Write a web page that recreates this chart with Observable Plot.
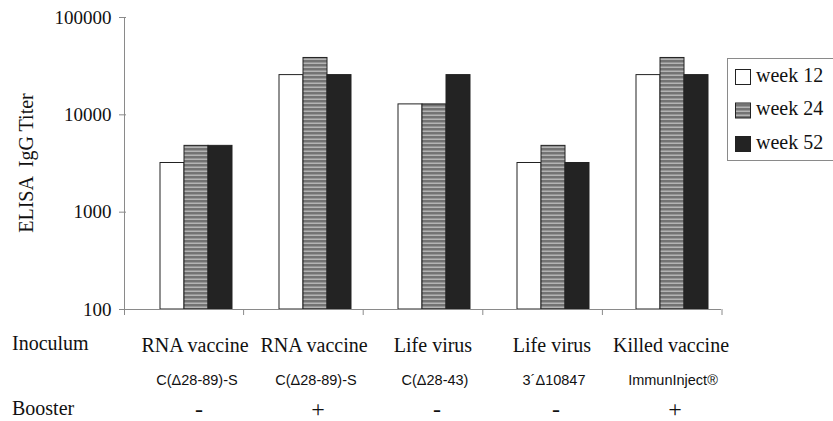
<!DOCTYPE html>
<html>
<head>
<meta charset="utf-8">
<script src="https://cdn.jsdelivr.net/npm/d3@7"></script>
<script src="https://cdn.jsdelivr.net/npm/@observablehq/plot@0.6"></script>
<style>
  body { margin: 0; background: #fff; }
  #chart svg { display: block; }
</style>
</head>
<body>
<div id="chart"></div>
<script>
// ---- data ----
const inoculum = ["RNA vaccine", "RNA vaccine", "Life virus", "Life virus", "Killed vaccine"];
const construct = ["C(\u039428-89)-S", "C(\u039428-89)-S", "C(\u039428-43)", "3\u00b4\u039410847", "ImmunInject\u00ae"];
const booster = ["-", "+", "-", "-", "+"];
const weeks = ["week 12", "week 24", "week 52"];
const week12 = [3200, 25600, 12800, 3200, 25600];
const week24 = [4800, 38400, 12800, 4800, 38400];
const week52 = [4800, 25600, 25600, 3200, 25600];
const yTicks = [100, 1000, 10000, 100000];
const rowLabels = ["Inoculum", "Booster"];

const seriesValues = [week12, week24, week52];
const groups = d3.range(inoculum.length);
const rows = [];
groups.forEach(g => weeks.forEach((w, k) => rows.push({g, week: w, value: seriesValues[k][g]})));
const labels = groups.map(g => ({g, inoculum: inoculum[g], construct: construct[g], booster: booster[g]}));

const fillFor = {"week 12": "#ffffff", "week 24": "url(#stripes)", "week 52": "#232323"};
const mL = 124;

const plot = Plot.plot({
  width: 833,
  height: 421,
  marginLeft: mL,
  marginRight: 111,
  marginTop: 17,
  marginBottom: 112,
  style: {fontFamily: "'Liberation Serif', 'Times New Roman', serif", fontSize: "19px", color: "#000", background: "#fff"},
  fx: {domain: groups, padding: 0, axis: null},
  x: {domain: weeks, range: [mL + 34, mL + 106], padding: 0, axis: null},
  y: {type: "log", domain: [100, 100000], ticks: yTicks, tickFormat: d => String(d), tickSize: 7, tickPadding: 8, label: null, grid: false},
  marks: [
    Plot.barY(rows, {fx: "g", x: "week", y1: 100, y2: "value", fill: d => fillFor[d.week], stroke: "#222", strokeWidth: 1}),
    Plot.ruleY([100], {stroke: "#8a8a8a", strokeWidth: 1}),
    Plot.text(labels, {fx: "g", text: "inoculum", frameAnchor: "bottom", lineAnchor: "middle", dy: 36, dx: 9, fontSize: 20, fontFamily: "'Liberation Serif', serif", fill: "#111"}),
    Plot.text(labels, {fx: "g", text: "construct", frameAnchor: "bottom", lineAnchor: "middle", dy: 71, dx: 11, fontSize: 14.5, fontFamily: "'Liberation Sans', Arial, sans-serif", fill: "#111"}),
    Plot.text(labels, {fx: "g", text: "booster", frameAnchor: "bottom", lineAnchor: "middle", dy: 100, dx: 13, fontSize: 24, fontFamily: "'Liberation Serif', serif", fill: "#111"})
  ]
});
document.getElementById("chart").appendChild(plot);

// ---- decorations ----
const svg = d3.select(plot);
const defs = svg.insert("defs", ":first-child");
const pat = defs.append("pattern").attr("id", "stripes").attr("patternUnits", "userSpaceOnUse")
  .attr("width", 8).attr("height", 4);
pat.append("rect").attr("width", 8).attr("height", 4).attr("fill", "#737373");
pat.append("rect").attr("y", 2.5).attr("width", 8).attr("height", 1.5).attr("fill", "#b4b4b4");

// axis styling
svg.selectAll("[aria-label^='y-axis'] line, [aria-label^='y-axis'] path").attr("stroke", "#8a8a8a");
svg.selectAll("[aria-label^='y-axis'] text").attr("fill", "#111");

const fxs = plot.scale("fx");
const ys = plot.scale("y");
const fx = d3.scaleBand().domain(fxs.domain).range(fxs.range).padding(0);
const y = d3.scaleLog().domain(ys.domain).range(ys.range);
const x0 = fx.range()[0];
const yb = y(100), yt = y(100000);

const deco = svg.append("g").attr("stroke", "#8a8a8a").attr("stroke-width", 1);
deco.append("line").attr("x1", x0 + 0.5).attr("x2", x0 + 0.5).attr("y1", yt).attr("y2", yb + 6);
groups.forEach(g => {
  const xe = fx(g) + fx.bandwidth();
  deco.append("line").attr("x1", xe).attr("x2", xe).attr("y1", yb).attr("y2", yb + 6);
});

const textAttrs = sel => sel.attr("font-family", "'Liberation Serif', serif").attr("font-size", 20).attr("fill", "#111");

// y axis title
textAttrs(svg.append("text"))
  .attr("transform", `translate(28,${(yt + yb) / 2}) rotate(-90)`)
  .attr("text-anchor", "middle").attr("dominant-baseline", "middle")
  .attr("xml:space", "preserve")
  .text("ELISA  IgG Titer");

// row labels
textAttrs(svg.append("text")).attr("x", 12).attr("y", yb + 36).attr("text-anchor", "start")
  .attr("dominant-baseline", "middle").text(rowLabels[0]);
textAttrs(svg.append("text")).attr("x", 12).attr("y", yb + 101).attr("text-anchor", "start")
  .attr("dominant-baseline", "middle").text(rowLabels[1]);

// legend
const lg = svg.append("g");
lg.append("rect").attr("x", 727.5).attr("y", 58.5).attr("width", 120).attr("height", 102)
  .attr("fill", "#fff").attr("stroke", "#8a8a8a");
weeks.forEach((w, k) => {
  const cy = 77 + k * 33.5;
  lg.append("rect").attr("x", 735.5).attr("y", cy - 7.5).attr("width", 15).attr("height", 15)
    .attr("fill", fillFor[w]).attr("stroke", "#222");
  textAttrs(lg.append("text")).attr("x", 756).attr("y", cy).attr("text-anchor", "start")
    .attr("dominant-baseline", "middle").text(w);
});
</script>
</body>
</html>
